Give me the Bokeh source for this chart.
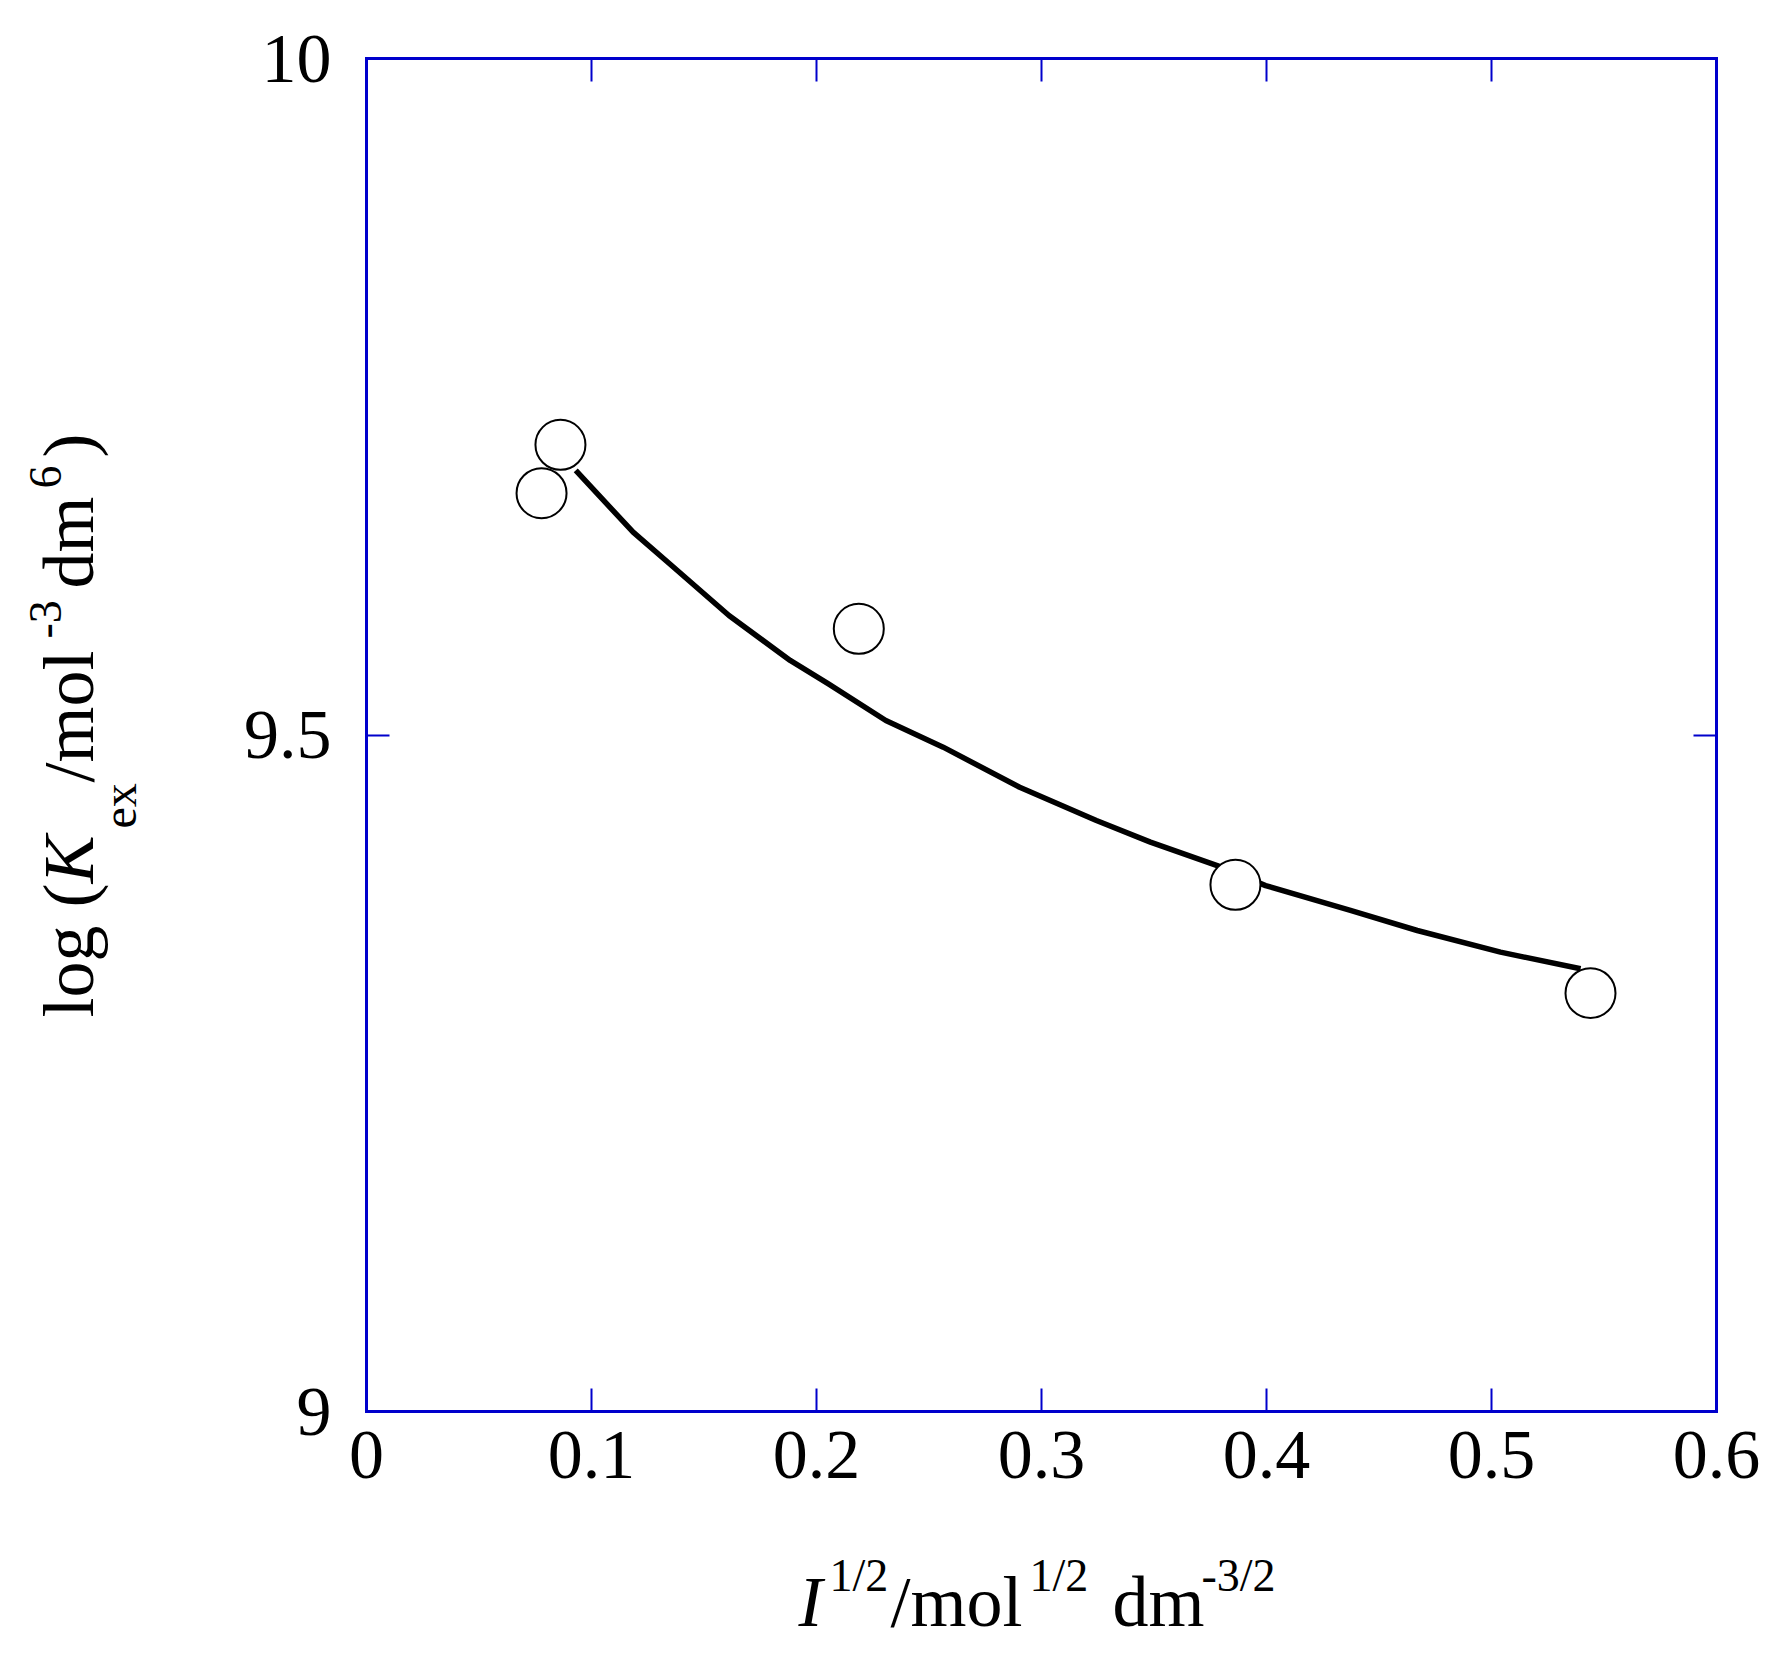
import math
from bokeh.plotting import figure
from bokeh.models import Label, LinearAxis, FixedTicker, Range1d, CustomJSTickFormatter
from bokeh.embed import file_html
from bokeh.resources import INLINE

# ---- data ----
x_points = [0.0778, 0.0862, 0.2188, 0.3862, 0.5440]
y_points = [9.6787, 9.7145, 9.5785, 9.3893, 9.3092]

curve_x = [0.0930, 0.1185, 0.1356, 0.1611, 0.1883, 0.2053, 0.2308, 0.2563,
           0.2903, 0.3244, 0.3484, 0.3781, 0.3996, 0.4373, 0.4670, 0.5040, 0.5396]
curve_y = [9.6955, 9.6499, 9.6253, 9.5883, 9.5551, 9.5378, 9.5107, 9.4910,
           9.4614, 9.4368, 9.4208, 9.4035, 9.3887, 9.3703, 9.3555, 9.3395, 9.3272]

x_ticks = [0, 0.1, 0.2, 0.3, 0.4, 0.5, 0.6]
x_tick_labels = ["0", "0.1", "0.2", "0.3", "0.4", "0.5", "0.6"]
y_ticks = [9, 9.5, 10]
y_tick_labels = ["9", "9.5", "10"]
x_lim = (0, 0.6)
y_lim = (9, 10)

BLUE = "#0000CC"
FONT = "Liberation Serif"

# ---- layout in pixels: the plotting box sits inside a canvas-wide frame ----
W, H = 1768, 1655
BOX_L, BOX_R, BOX_T, BOX_B = 366, 1716, 58, 1411
sx = (BOX_R - BOX_L) / (x_lim[1] - x_lim[0])
sy = (BOX_B - BOX_T) / (y_lim[1] - y_lim[0])
x_range = Range1d(x_lim[0] - BOX_L / sx, x_lim[1] + (W - BOX_R) / sx)
y_range = Range1d(y_lim[0] - (H - BOX_B) / sy, y_lim[1] + BOX_T / sy)

p = figure(width=W, height=H, x_range=x_range, y_range=y_range,
           output_backend="svg", toolbar_location=None,
           min_border_left=0, min_border_right=0, min_border_top=0, min_border_bottom=0)
p.grid.visible = False
p.outline_line_color = None
p.background_fill_color = "white"
p.border_fill_color = "white"

def style_axis(ax, ticks, bounds, loc):
    ax.ticker = FixedTicker(ticks=ticks)
    ax.bounds = bounds
    ax.fixed_location = loc
    ax.axis_line_color = BLUE
    ax.axis_line_width = 3
    ax.axis_line_cap = "square"
    ax.major_tick_in = 23
    ax.major_tick_out = 0
    ax.major_tick_line_color = BLUE
    ax.major_tick_line_width = 2
    ax.minor_tick_line_color = None
    ax.major_label_text_font = FONT
    ax.major_label_text_font_size = "70px"
    ax.major_label_text_color = "black"

style_axis(p.xaxis[0], x_ticks, x_lim, y_lim[0])
style_axis(p.yaxis[0], y_ticks, y_lim, x_lim[0])
p.xaxis[0].major_label_overrides = {t: s for t, s in zip(x_ticks, x_tick_labels)}
p.yaxis[0].major_label_overrides = {t: s for t, s in zip(y_ticks, y_tick_labels)}
p.xaxis[0].major_label_standoff = 20
p.yaxis[0].major_label_standoff = 35

blank = CustomJSTickFormatter(code="return ''")
top_ax = LinearAxis(formatter=blank, major_label_standoff=0)
right_ax = LinearAxis(formatter=blank, major_label_standoff=0)
style_axis(top_ax, x_ticks, x_lim, y_lim[1])
style_axis(right_ax, y_ticks, y_lim, x_lim[1])
p.add_layout(top_ax, "above")
p.add_layout(right_ax, "right")

# ---- marks ----
p.line(curve_x, curve_y, line_width=5.5, line_color="black", line_join="round")
p.scatter(x_points, y_points, marker="circle", size=50, fill_color="white",
          line_color="black", line_width=2)

# ---- axis titles built from pieces (anchored at the box's bottom-left corner) ----
def piece(text, xo, yo, size, angle=0.0, style="normal"):
    p.add_layout(Label(x=x_lim[0], y=y_lim[0], x_offset=xo, y_offset=yo,
                       text=text, angle=angle, text_font=FONT, text_font_size=f"{size}px",
                       text_font_style=style, text_color="black",
                       text_align="left", text_baseline="alphabetic"))

R = math.pi / 2
piece("log (", -298, 394, 72, R)
piece("K", -298, 528, 72, R, "italic")
piece("ex", -247, 583, 48, R)
piece("/mol", -298, 629, 72, R)
piece("-3", -321, 773, 46, R)
piece("dm", -298, 823, 72, R)
piece("6", -321, 923, 46, R)
piece(")", -298, 954, 72, R)

piece("I", 432, -190, 72, 0.0, "italic")
piece("1/2", 463, -164, 46)
piece("/mol", 524, -190, 72)
piece("1/2", 663, -164, 46)
piece("dm", 746, -190, 72)
piece("-3/2", 835, -164, 46)

open("out.html", "w").write(file_html(p, INLINE))
